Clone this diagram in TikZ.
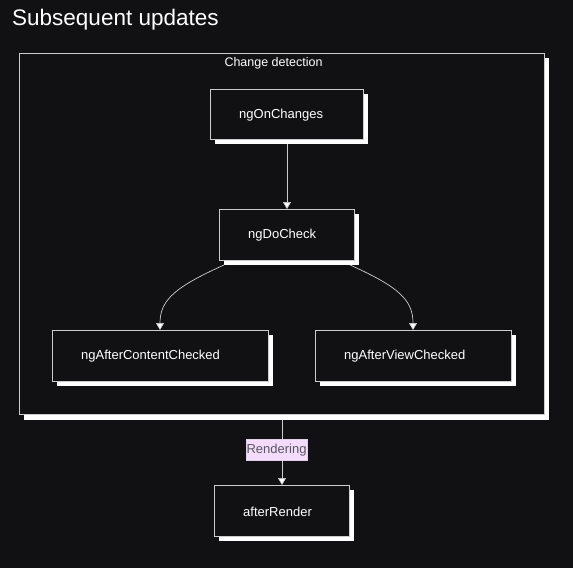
\documentclass[tikz,border=0pt]{standalone}
\usepackage{fontspec}
\setmainfont{Liberation Sans}
\usetikzlibrary{arrows.meta}
\definecolor{bg}{HTML}{111113}
\definecolor{edge}{HTML}{CCCCCC}
\definecolor{lbl}{HTML}{F3DCFF}
\begin{document}
\begin{tikzpicture}[x=1pt,y=-1pt,
  stepbox/.style={draw=edge,fill=bg,line width=0.8pt},
  txt/.style={text=white,font=\fontsize{13}{15}\selectfont},
  conn/.style={draw=edge,line width=0.7pt,-{Triangle[length=7pt,width=8pt,fill=white]}}]
\fill[bg] (0,0) rectangle (573,568);
\useasboundingbox (0,0) rectangle (573,568);
\node[anchor=west,text=white,font=\fontsize{22.5}{26}\selectfont,inner sep=0pt] (title) at (12,19.5) {Subsequent updates};
% outer group
\fill[white] (24,58) rectangle (549,420);
\draw[stepbox] (19,53) rectangle (544,414);
\node[txt,font=\fontsize{12.5}{14}\selectfont] (cd) at (273.5,63.5) {Change detection};
% nodes
\newcommand{\mybox}[6]{%
  \fill[white] (#1+5,#2+5) rectangle (#3+5,#4+5);
  \draw[stepbox] (#1,#2) rectangle (#3,#4);
  \node[txt,anchor=west,inner xsep=0pt] (#5) at ({#1+29},{(#2+#4)/2+1}) {#6};}
\mybox{210}{89}{363}{139}{onc}{ngOnChanges}
\mybox{219}{209}{354}{260}{doc}{ngDoCheck}
\mybox{52}{330}{268}{381}{acc}{ngAfterContentChecked}
\mybox{315}{330}{511}{381}{avc}{ngAfterViewChecked}
\mybox{214}{485}{349}{536}{ar}{afterRender}
\coordinate (oncb) at (287,144);
\coordinate (onct) at (287,209);
\draw[conn] (oncb) -- (onct);
\coordinate (d1) at (224,265);
\coordinate (d2) at (350,265);
\coordinate (a1) at (160,330);
\coordinate (a2) at (413,330);
\draw[conn] (d1) .. controls (175,287) and (160,300) .. (a1);
\draw[conn] (d2) .. controls (399,287) and (413,300) .. (a2);
\coordinate (ob) at (282,420);
\coordinate (art) at (282,485);
\draw[conn] (ob) -- (art);
\node[fill=lbl,draw=edge!60!lbl,line width=0.5pt,inner sep=0.5pt,minimum width=59pt,minimum height=21pt,text=black!65,font=\fontsize{13}{15}\selectfont] (rend) at (276.5,450) {Rendering};
\end{tikzpicture}
\end{document}
